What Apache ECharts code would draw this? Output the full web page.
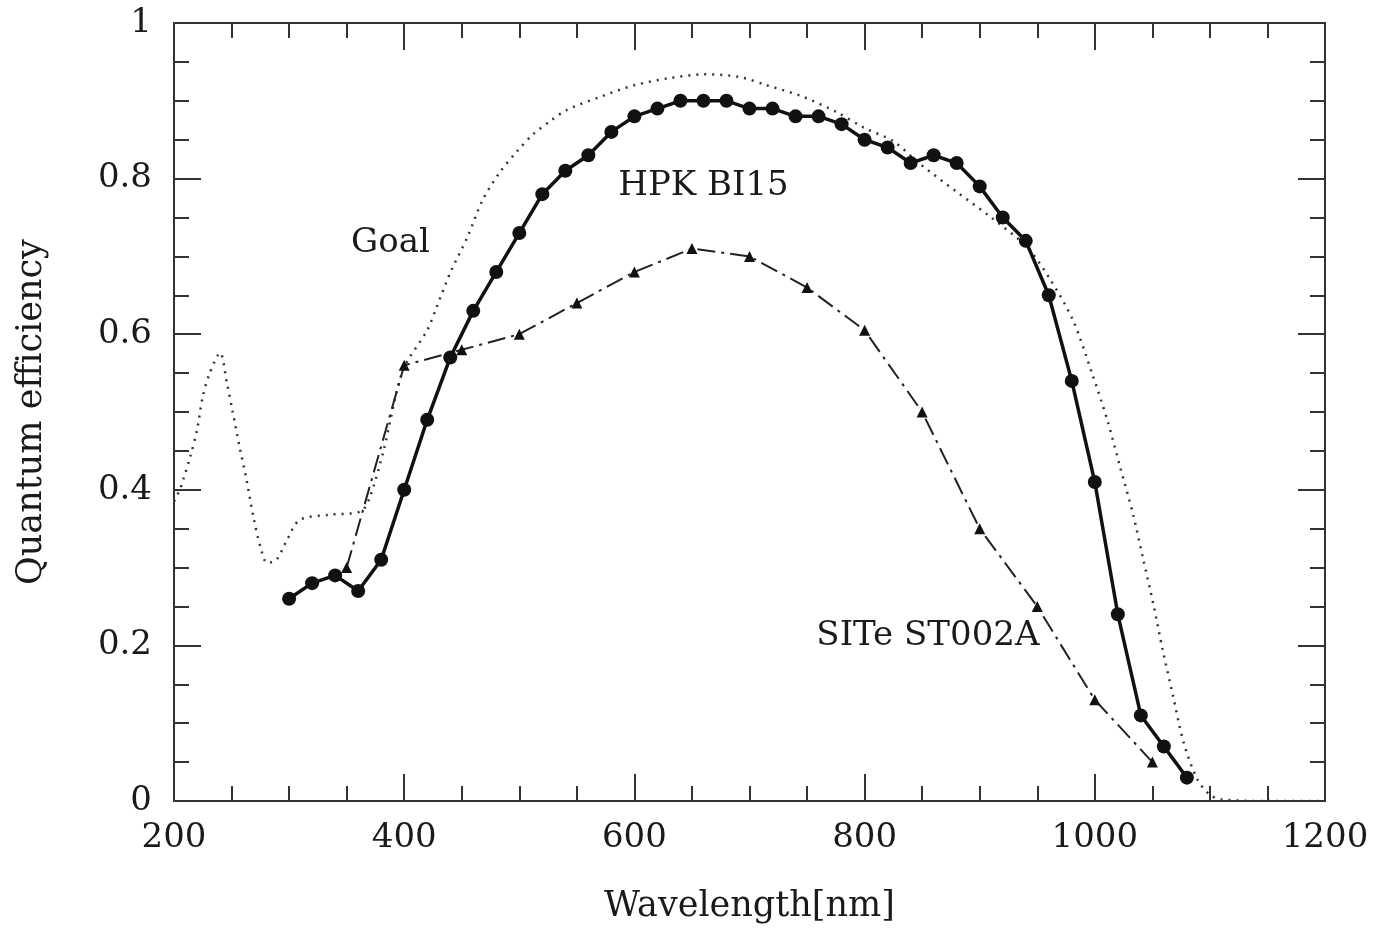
<!DOCTYPE html>
<html>
<head>
<meta charset="utf-8">
<script src="https://cdn.jsdelivr.net/npm/echarts@6/dist/echarts.min.js"></script>
<style>
  html, body { margin: 0; padding: 0; background: #ffffff; }
  #chart { width: 1379px; height: 933px; }
</style>
</head>
<body>
<div id="chart"></div>
<script>
// ---- Data ----
const hpkWavelength = [300,320,340,360,380,400,420,440,460,480,500,520,540,560,580,600,620,640,660,680,
                       700,720,740,760,780,800,820,840,860,880,900,920,940,960,980,1000,1020,1040,1060,1080];
const hpkQE = [0.26,0.28,0.29,0.27,0.31,0.40,0.49,0.57,0.63,0.68,0.73,0.78,0.81,0.83,0.86,0.88,0.89,0.90,0.90,0.90,
               0.89,0.89,0.88,0.88,0.87,0.85,0.84,0.82,0.83,0.82,0.79,0.75,0.72,0.65,0.54,0.41,0.24,0.11,0.07,0.03];

const siteWavelength = [350,400,450,500,550,600,650,700,750,800,850,900,950,1000,1050];
const siteQE = [0.30,0.56,0.58,0.60,0.64,0.68,0.71,0.70,0.66,0.605,0.50,0.35,0.25,0.13,0.05];

const goalWavelength = [200,205,208,214,220,225,231,240,246,251,257,263,269,275,281,289,298,309,335,362,
                        370,382,399,420,428,440,455,468,483,498,512,527,541,570,600,630,660,690,715,745,
                        775,800,825,848,880,910,941,961,981,998,1011,1022,1033,1042,1051,1059,1068,1077,1089,1100,
                        1110,1150,1200];
const goalQE = [0.385,0.40,0.413,0.442,0.477,0.52,0.55,0.576,0.537,0.50,0.455,0.413,0.365,0.327,0.306,0.31,0.335,0.361,0.368,0.372,
                0.39,0.45,0.554,0.605,0.634,0.679,0.725,0.772,0.808,0.835,0.857,0.874,0.888,0.905,0.92,0.929,0.934,0.931,0.92,0.906,
                0.886,0.865,0.848,0.819,0.783,0.75,0.712,0.671,0.618,0.548,0.489,0.429,0.37,0.311,0.252,0.194,0.135,0.076,0.028,0.008,
                0.002,0.0,0.0];

const annotations = [
  { name: 'Goal', x: 388, y: 0.717 },
  { name: 'HPK BI15', x: 660, y: 0.79 },
  { name: 'SITe ST002A', x: 855, y: 0.212 }
];

const xTicks = { min: 200, max: 1200, interval: 200 };
const yTicks = { min: 0, max: 1, interval: 0.2 };

// ---- Build chart ----
const FONT = 'DejaVu Serif';
const INK = '#1a1a1a';

function zip(xs, ys) { return xs.map((x, i) => [x, ys[i]]); }

const axisLine = { show: true, onZero: false, lineStyle: { color: '#333', width: 2 } };

const chart = echarts.init(document.getElementById('chart'), null, { renderer: 'canvas' });

const baseX = {
  type: 'value', min: xTicks.min, max: xTicks.max, interval: xTicks.interval,
  axisLine: axisLine,
  axisTick: { show: true, inside: true, length: 27, lineStyle: { color: '#333', width: 2 } },
  minorTick: { show: true, splitNumber: 4, length: 15, lineStyle: { color: '#333', width: 2 } },
  splitLine: { show: false }, minorSplitLine: { show: false }
};
const baseY = {
  type: 'value', min: yTicks.min, max: yTicks.max, interval: yTicks.interval,
  axisLine: axisLine,
  axisTick: { show: true, inside: true, length: 27, lineStyle: { color: '#333', width: 2 } },
  minorTick: { show: true, splitNumber: 4, length: 15, lineStyle: { color: '#333', width: 2 } },
  splitLine: { show: false }, minorSplitLine: { show: false }
};

const option = {
  backgroundColor: '#ffffff',
  animation: false,
  grid: { left: 174, right: 54, top: 23, bottom: 132, containLabel: false, outerBoundsMode: 'none' },
  xAxis: [
    Object.assign({}, baseX, {
      position: 'bottom',
      name: 'Wavelength[nm]', nameLocation: 'middle', nameGap: 88,
      nameTextStyle: { fontFamily: FONT, fontSize: 35, color: INK },
      axisLabel: { show: true, margin: 20, fontFamily: FONT, fontSize: 34, color: INK,
                   formatter: v => String(v) }
    }),
    Object.assign({}, baseX, { position: 'top', axisLabel: { show: false } })
  ],
  yAxis: [
    Object.assign({}, baseY, {
      position: 'left',
      name: 'Quantum efficiency', nameLocation: 'middle', nameGap: 125, nameRotate: 90,
      nameTextStyle: { fontFamily: FONT, fontSize: 35, color: INK },
      axisLabel: { show: true, margin: 22, fontFamily: FONT, fontSize: 34, color: INK,
                   formatter: v => String(v) }
    }),
    Object.assign({}, baseY, { position: 'right', axisLabel: { show: false } })
  ],
  series: [
    {
      name: 'Goal', type: 'line', xAxisIndex: 0, yAxisIndex: 0,
      data: zip(goalWavelength, goalQE),
      showSymbol: false, smooth: 0.3,
      lineStyle: { color: '#333', width: 2.5, type: [2, 6] }
    },
    {
      name: 'SITe ST002A', type: 'line', xAxisIndex: 0, yAxisIndex: 0,
      data: zip(siteWavelength, siteQE),
      symbol: 'triangle', symbolSize: 11,
      itemStyle: { color: '#111' },
      lineStyle: { color: '#222', width: 2, type: [18, 6, 3, 6] }
    },
    {
      name: 'HPK BI15', type: 'line', xAxisIndex: 0, yAxisIndex: 0,
      data: zip(hpkWavelength, hpkQE),
      symbol: 'circle', symbolSize: 14,
      itemStyle: { color: '#111' },
      lineStyle: { color: '#111', width: 3.5 }
    },
    {
      name: 'labels', type: 'scatter', xAxisIndex: 0, yAxisIndex: 0,
      symbolSize: 1, silent: true,
      itemStyle: { color: 'rgba(0,0,0,0)' },
      data: annotations.map(a => ({ name: a.name, value: [a.x, a.y] })),
      label: {
        show: true, position: 'inside', formatter: p => p.name,
        fontFamily: FONT, fontSize: 34, color: INK, opacity: 1
      }
    }
  ]
};
chart.setOption(option);
</script>
</body>
</html>
